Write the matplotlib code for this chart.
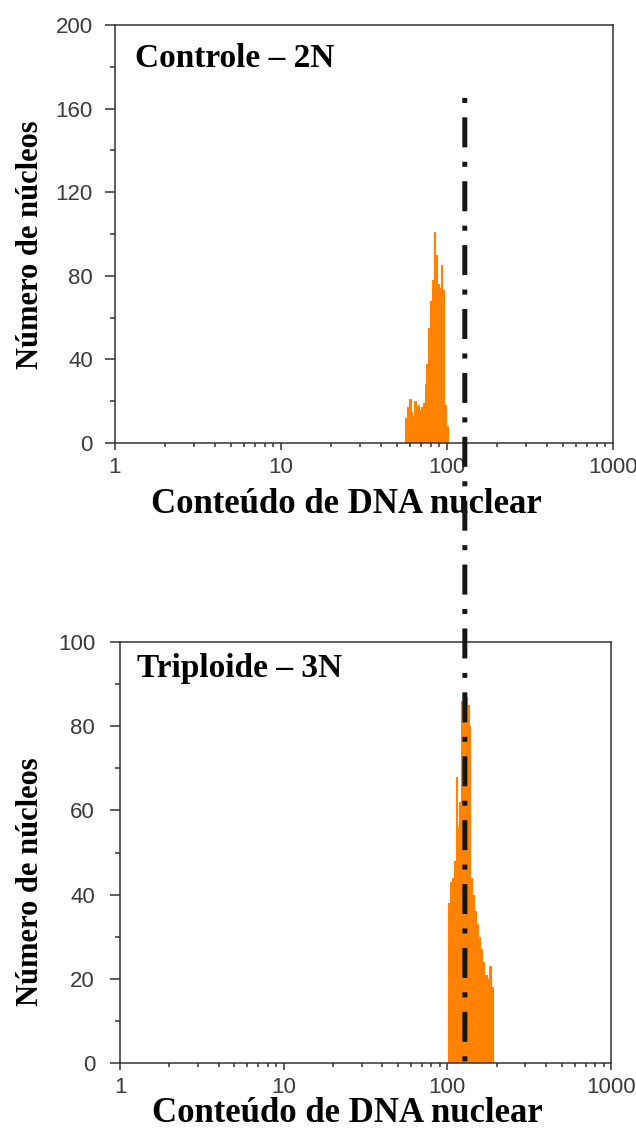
import numpy as np
import matplotlib
matplotlib.use("Agg")
import matplotlib.pyplot as plt
from matplotlib.lines import Line2D
from matplotlib.ticker import LogLocator, FixedLocator, NullFormatter, MultipleLocator

# ---------------- data ----------------
x_ticks = [1, 10, 100, 1000]
x_tick_labels = ["1", "10", "100", "1000"]

ctrl_title = "Controle \u2013 2N"
ctrl_range = (56, 101)
ctrl_counts = [12, 17, 21, 15, 13, 20, 17, 18, 16, 17, 19, 28,
               38, 55, 68, 78, 101, 90, 76, 74, 85, 73, 18, 8]
ctrl_yticks = [0, 40, 80, 120, 160, 200]

trip_title = "Triploide \u2013 3N"
trip_range = (101, 190)
trip_counts = [38, 43, 44, 48, 68, 56, 62, 86, 88, 87, 85, 80,
               44, 40, 36, 33, 30, 27, 24, 21, 21, 20, 23, 18]
trip_yticks = [0, 20, 40, 60, 80, 100]

ploidy_marker = 128          # reference (3N) position
marker_top = 170             # top end of marker in control panel

xlabel = "Conte\u00fado de DNA nuclear"
ylabel = "N\u00famero de n\u00facleos"

# ---------------- style ----------------
ORANGE = "#FF8200"
SPINE = "#333333"
TICKC = "#3a3a3a"
serif = ["Liberation Serif", "DejaVu Serif"]
sans = ["Liberation Sans", "DejaVu Sans"]

fig = plt.figure(figsize=(6.36, 11.40), dpi=100)
W, H = 636, 1140
ax1 = fig.add_axes([115 / W, 1 - 443 / H, 498 / W, 418 / H])
ax2 = fig.add_axes([120 / W, 1 - 1063 / H, 491 / W, 421 / H])


def style(ax, counts, rng, yticks, title, ypad, xlab_y, ylab_x, ylab_y, tpos):
    edges = np.geomspace(rng[0], rng[1], len(counts) + 1)
    ax.stairs(counts, edges, fill=True, facecolor=ORANGE, edgecolor=ORANGE,
              linewidth=0.8)
    ax.set_xscale("log")
    ax.set_xlim(1, 1000)
    ax.set_ylim(yticks[0], yticks[-1])
    ax.xaxis.set_major_locator(FixedLocator(x_ticks))
    ax.set_xticklabels(x_tick_labels)
    ax.xaxis.set_minor_locator(LogLocator(base=10, subs=np.arange(2, 10)))
    ax.xaxis.set_minor_formatter(NullFormatter())
    ax.set_yticks(yticks)
    step = yticks[1] - yticks[0]
    ax.yaxis.set_minor_locator(MultipleLocator(step / 2))
    for s in ax.spines.values():
        s.set_color(SPINE)
        s.set_linewidth(1.1)
    ax.tick_params(axis="both", which="both", direction="out", color=SPINE,
                   width=1.1, labelcolor=TICKC, labelsize=16)
    ax.tick_params(axis="x", which="major", length=5, pad=5)
    ax.tick_params(axis="x", which="minor", length=3)
    ax.tick_params(axis="y", which="major", length=7, pad=ypad)
    ax.tick_params(axis="y", which="minor", length=3.6)
    for lab in ax.get_xticklabels() + ax.get_yticklabels():
        lab.set_family(sans)
    ax.set_xlabel(xlabel, fontsize=25, fontweight="bold", family=serif)
    ax.xaxis.set_label_coords(0.464, xlab_y)
    ax.set_ylabel(ylabel, fontsize=22, fontweight="bold", family=serif)
    ax.yaxis.set_label_coords(ylab_x, ylab_y)
    ax.text(tpos[0], tpos[1], title, transform=ax.transAxes, fontsize=24,
            fontweight="bold", family=serif, va="baseline", ha="left")


style(ax1, ctrl_counts, ctrl_range, ctrl_yticks, ctrl_title, 9,
      -0.108, -0.14, 0.474, (0.04, 0.90))
style(ax2, trip_counts, trip_range, trip_yticks, trip_title, 11,
      -0.081, -0.153, 0.43, (0.035, 0.917))

# dash-dot marker line crossing both panels (positions from the data scales)
p_top = ax1.transData.transform((ploidy_marker, marker_top))
p_bot = ax2.transData.transform((ploidy_marker, 0))
inv = fig.transFigure.inverted()
(fx0, fy0), (fx1, fy1) = inv.transform([p_top, p_bot])
marker = Line2D([fx0, fx1], [fy0, fy1], transform=fig.transFigure,
                color="#151515", linewidth=3.6, solid_capstyle="butt",
                dash_capstyle="butt", zorder=10)
marker.set_dashes((21.6, 10.8, 3.6, 10.8))
marker.set_dashes([21.6, 10.8, 3.6, 10.8])
marker.set_linestyle((32.4, (21.6 / 3.6, 10.4 / 3.6, 1.0, 10.4 / 3.6)))
fig.add_artist(marker)

fig.savefig("out.png", dpi=100)
